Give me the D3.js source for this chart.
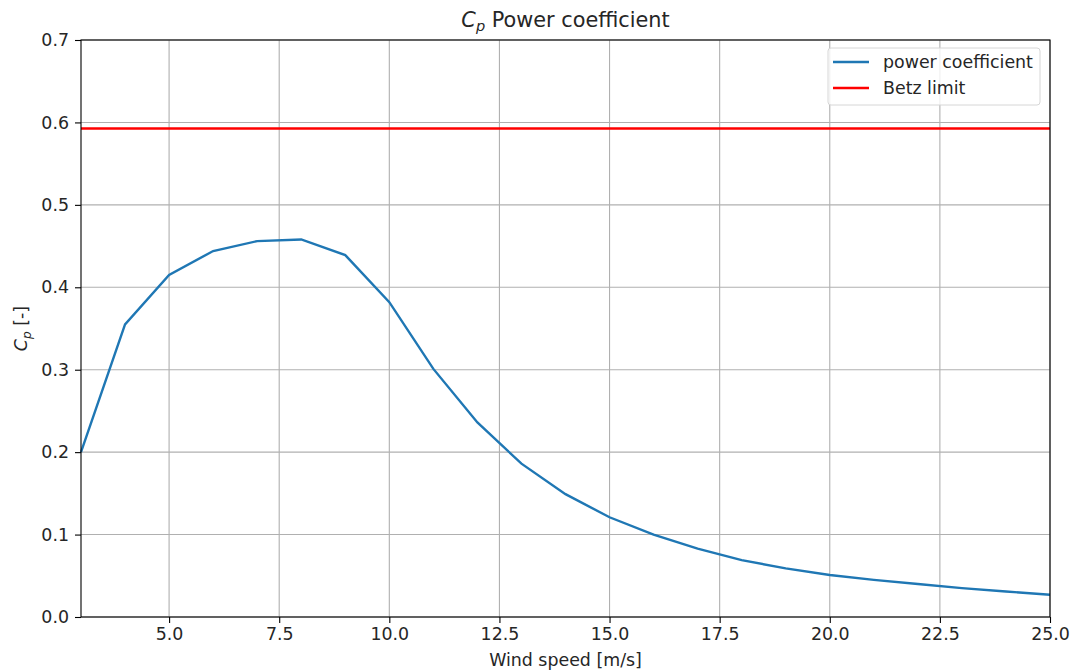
<!DOCTYPE html>
<html>
<head>
<meta charset="utf-8">
<script src="https://cdn.jsdelivr.net/npm/d3@7"></script>
<style>
  body { margin: 0; background: #fff; }
  svg { font-family: "DejaVu Sans", sans-serif; }
</style>
</head>
<body>
<div id="chart"></div>
<script>
// Wind speed [m/s]
const windSpeed = [3, 4, 5, 6, 7, 8, 9, 10, 11, 12, 13, 14, 15, 16, 17, 18, 19, 20, 21, 22, 23, 24, 25];
// Power coefficient Cp
const cpValues = [0.200, 0.355, 0.415, 0.444, 0.456, 0.458, 0.439, 0.382, 0.301, 0.236, 0.186, 0.149, 0.121, 0.100, 0.083, 0.069, 0.059, 0.051, 0.045, 0.040, 0.035, 0.031, 0.027];
const betzLimit = 16 / 27;
const xTicks = [5, 7.5, 10, 12.5, 15, 17.5, 20, 22.5, 25];
const yTicks = [0, 0.1, 0.2, 0.3, 0.4, 0.5, 0.6, 0.7];

const W = 1071, H = 671;
const margin = {top: 40, right: 21, bottom: 54, left: 81};
const width = W - margin.left - margin.right;
const height = H - margin.top - margin.bottom;
const fs = "17.4px";

const svg = d3.select("#chart").append("svg")
    .attr("width", W)
    .attr("height", H);

const g = svg.append("g")
    .attr("transform", `translate(${margin.left},${margin.top})`);

const x = d3.scaleLinear().domain([3, 25]).range([0, width]);
const y = d3.scaleLinear().domain([0, 0.7]).range([height, 0]);

// Grid
g.append("g")
    .selectAll("line")
    .data(xTicks)
    .join("line")
    .attr("x1", d => x(d)).attr("x2", d => x(d))
    .attr("y1", 0).attr("y2", height)
    .attr("stroke", "#b0b0b0").attr("stroke-width", 1.1);

g.append("g")
    .selectAll("line")
    .data(yTicks)
    .join("line")
    .attr("x1", 0).attr("x2", width)
    .attr("y1", d => y(d)).attr("y2", d => y(d))
    .attr("stroke", "#b0b0b0").attr("stroke-width", 1.1);

// Axes
const xAxis = g.append("g")
    .attr("transform", `translate(0,${height})`)
    .call(d3.axisBottom(x).tickValues(xTicks).tickFormat(d3.format(".1f")).tickSize(6).tickPadding(5));
const yAxis = g.append("g")
    .call(d3.axisLeft(y).tickValues(yTicks).tickFormat(d3.format(".1f")).tickSize(6).tickPadding(6));

[xAxis, yAxis].forEach(a => {
    a.select(".domain").remove();
    a.selectAll("line").attr("stroke", "#000").attr("stroke-width", 1.1);
    a.selectAll("text").attr("fill", "#262626")
        .style("font-size", fs)
        .style("font-family", "DejaVu Sans, sans-serif");
});

// Lines
const line = d3.line()
    .x((d, i) => x(windSpeed[i]))
    .y(d => y(d));

g.append("path")
    .datum(cpValues)
    .attr("fill", "none")
    .attr("stroke", "#1f77b4")
    .attr("stroke-width", 2.4)
    .attr("d", line);

g.append("line")
    .attr("x1", 0).attr("x2", width)
    .attr("y1", y(betzLimit)).attr("y2", y(betzLimit))
    .attr("stroke", "red")
    .attr("stroke-width", 2.4);

// Frame
g.append("rect")
    .attr("width", width).attr("height", height)
    .attr("fill", "none")
    .attr("stroke", "#000").attr("stroke-width", 1.1);

// Legend
const legend = g.append("g")
    .attr("transform", `translate(${width - 222},8)`);
legend.append("rect")
    .attr("width", 212).attr("height", 57)
    .attr("rx", 3)
    .attr("fill", "#fff").attr("fill-opacity", 0.8)
    .attr("stroke", "#d6d6d6").attr("stroke-width", 1);

const legendItems = [
    {label: "power coefficient", color: "#1f77b4"},
    {label: "Betz limit", color: "red"}
];
legendItems.forEach((d, i) => {
    const row = legend.append("g")
        .attr("transform", `translate(0,${14 + i * 26})`);
    row.append("line")
        .attr("x1", 5).attr("x2", 41)
        .attr("stroke", d.color).attr("stroke-width", 2.4);
    row.append("text")
        .attr("x", 55).attr("dy", "0.35em")
        .attr("fill", "#262626")
        .style("font-size", fs)
        .text(d.label);
});

// Title
const title = svg.append("text")
    .attr("x", margin.left + width / 2)
    .attr("y", 27)
    .attr("text-anchor", "middle")
    .attr("fill", "#262626")
    .style("font-size", "20.8px");
title.append("tspan").style("font-style", "italic").text("C");
title.append("tspan").style("font-style", "italic").style("font-size", "14.6px").attr("dy", 4).text("p");
title.append("tspan").attr("dy", -4).text(" Power coefficient");

// X label
svg.append("text")
    .attr("x", margin.left + width / 2)
    .attr("y", 666)
    .attr("text-anchor", "middle")
    .attr("fill", "#262626")
    .style("font-size", fs)
    .text("Wind speed [m/s]");

// Y label
const ylab = svg.append("text")
    .attr("transform", `translate(27,${margin.top + height / 2}) rotate(-90)`)
    .attr("text-anchor", "middle")
    .attr("fill", "#262626")
    .style("font-size", fs);
ylab.append("tspan").style("font-style", "italic").text("C");
ylab.append("tspan").style("font-style", "italic").style("font-size", "12.2px").attr("dy", 3.5).text("p");
ylab.append("tspan").attr("dy", -3.5).text(" [-]");
</script>
</body>
</html>
